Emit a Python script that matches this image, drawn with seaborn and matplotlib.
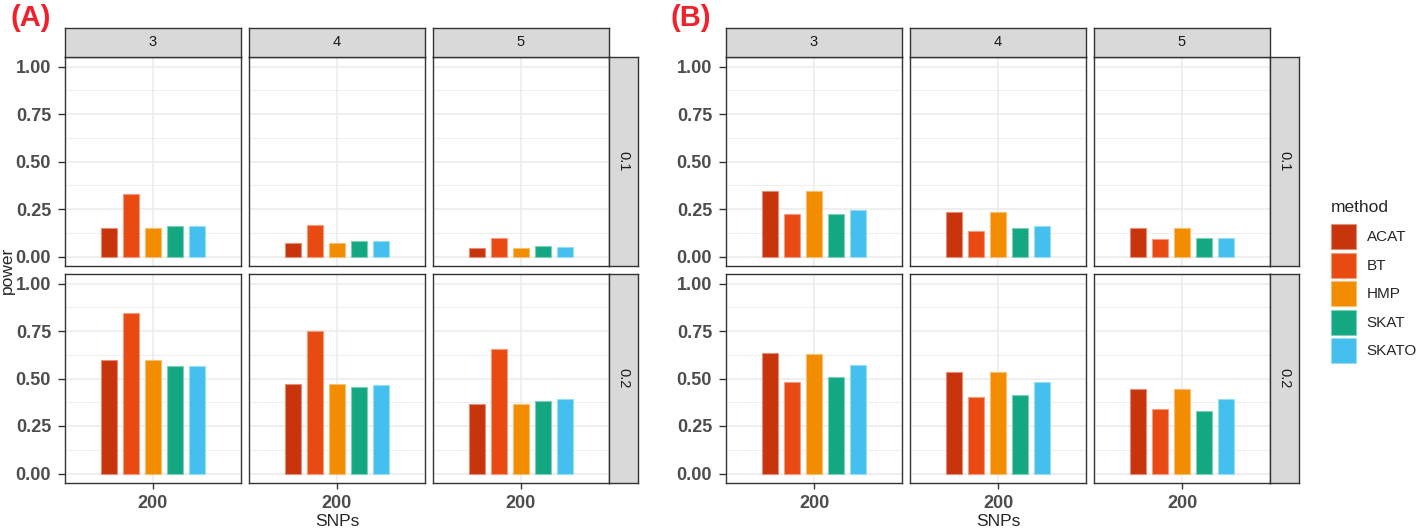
import numpy as np
import pandas as pd
import matplotlib.pyplot as plt
import seaborn as sns
from matplotlib.patches import Patch
from matplotlib.ticker import MultipleLocator, FormatStrFormatter
from matplotlib.colors import to_rgb

# data
methods = ['ACAT', 'BT', 'HMP', 'SKAT', 'SKATO']
colors = ['#C8340C', '#E84A12', '#F28C00', '#13A882', '#45BFEE']
col_groups = ['3', '4', '5']
row_groups = ['0.1', '0.2']
snps = '200'

# one inner list per column (3, 4, 5), values in method order
powerA_01 = [[0.148, 0.330, 0.148, 0.158, 0.158],
             [0.073, 0.167, 0.073, 0.083, 0.083],
             [0.047, 0.100, 0.047, 0.057, 0.052]]
powerA_02 = [[0.600, 0.843, 0.600, 0.565, 0.565],
             [0.469, 0.751, 0.469, 0.455, 0.465],
             [0.364, 0.657, 0.364, 0.380, 0.390]]
powerB_01 = [[0.347, 0.224, 0.347, 0.224, 0.244],
             [0.232, 0.133, 0.232, 0.150, 0.163],
             [0.148, 0.094, 0.148, 0.100, 0.100]]
powerB_02 = [[0.636, 0.480, 0.630, 0.508, 0.572],
             [0.533, 0.405, 0.535, 0.415, 0.483],
             [0.443, 0.342, 0.443, 0.330, 0.394]]

rows = []
for panel, r01, r02 in [('A', powerA_01, powerA_02), ('B', powerB_01, powerB_02)]:
    for eff, vals in zip(row_groups, [r01, r02]):
        for g, v in zip(col_groups, vals):
            for m, p in zip(methods, v):
                rows.append(dict(panel=panel, effect=eff, group=g, method=m, SNPs=snps, power=p))
df = pd.DataFrame(rows)

sns.set_style('white')
plt.rcParams['font.family'] = ['Liberation Sans', 'DejaVu Sans']

W, H = 1416, 532
fig = plt.figure(figsize=(W / 100, H / 100), dpi=100)


def px_axes(x0, y0, x1, y1):
    return fig.add_axes([x0 / W, 1 - y1 / H, (x1 - x0) / W, (y1 - y0) / H])


def lighten(c, f=0.45):
    r, g, b = to_rgb(c)
    return (r + (1 - r) * f, g + (1 - g) * f, b + (1 - b) * f)


def strip(x0, y0, x1, y1, text, rot):
    sa = px_axes(x0, y0, x1, y1)
    sa.set_facecolor('#D9D9D9')
    sa.set_xticks([])
    sa.set_yticks([])
    for s in sa.spines.values():
        s.set_color('#333333')
        s.set_linewidth(1.0)
    sa.text(0.5, 0.5, text, ha='center', va='center', rotation=rot,
            fontsize=10.5, color='#1A1A1A', transform=sa.transAxes)


panel_w, gap = 176, 8
row_y = [(57, 266), (274, 483)]
left_x = {'A': 65, 'B': 726}

for panel in ['A', 'B']:
    for ri, eff in enumerate(row_groups):
        for ci, g in enumerate(col_groups):
            x0 = left_x[panel] + ci * (panel_w + gap)
            y0, y1 = row_y[ri]
            ax = px_axes(x0, y0, x0 + panel_w, y1)
            sub = df[(df.panel == panel) & (df.effect == eff) & (df.group == g)]
            sns.barplot(data=sub, x='SNPs', y='power', hue='method', hue_order=methods,
                        palette=colors, saturation=1, width=0.75, gap=0.3,
                        errorbar=None, legend=False, ax=ax)
            for p in ax.patches:
                p.set_edgecolor(lighten(p.get_facecolor()))
                p.set_linewidth(0.8)
            ax.set_xlim(-0.6, 0.6)
            ax.set_ylim(-0.05, 1.05)
            ax.yaxis.set_major_locator(MultipleLocator(0.25))
            ax.yaxis.set_minor_locator(MultipleLocator(0.125))
            ax.yaxis.set_major_formatter(FormatStrFormatter('%.2f'))
            ax.set_axisbelow(True)
            ax.grid(which='major', color='#EBEBEB', lw=1.1)
            ax.grid(which='minor', axis='y', color='#EBEBEB', lw=0.6)
            for s in ax.spines.values():
                s.set_color('#333333')
                s.set_linewidth(1.0)
            ax.set_xlabel('')
            ax.set_ylabel('')
            show_y = ci == 0
            show_x = ri == 1
            ax.tick_params(axis='y', which='major', left=show_y, labelleft=show_y,
                           length=5, width=1, color='#333333', pad=5,
                           labelsize=13, labelcolor='#4D4D4D')
            ax.tick_params(axis='x', which='major', bottom=show_x, labelbottom=show_x,
                           length=4.5, width=1, color='#333333', pad=4,
                           labelsize=13, labelcolor='#4D4D4D')
            ax.tick_params(which='minor', length=0)
            for lab in ax.get_xticklabels() + ax.get_yticklabels():
                lab.set_fontweight('bold')
            if ri == 0:
                strip(x0, 28, x0 + panel_w, 57, g, 0)
        xr = left_x[panel] + 3 * panel_w + 2 * gap
        strip(xr, row_y[ri][0], xr + 29, row_y[ri][1], eff, -90)

    center = left_x[panel] + (3 * panel_w + 2 * gap) / 2
    fig.text(center / W, 1 - 522 / H, 'SNPs', ha='center', va='center', fontsize=12.5)

fig.text(7 / W, 1 - 270 / H, 'power', ha='center', va='center', rotation=90, fontsize=12.5)
fig.text(10 / W, 1 - 4 / H, '(A)', ha='left', va='top', fontsize=21,
         fontweight='bold', color='#F2202A')
fig.text(671 / W, 1 - 4 / H, '(B)', ha='left', va='top', fontsize=21,
         fontweight='bold', color='#F2202A')

# legend: title as separate text so it lines up with the keys
fig.text(1331 / W, 1 - 208 / H, 'method', ha='left', va='center', fontsize=12.5)
handles = [Patch(facecolor=c, edgecolor=lighten(c), linewidth=0.8) for c in colors]
fig.legend(handles=handles, labels=methods, loc='upper left',
           bbox_to_anchor=(1331 / W, 1 - 224 / H), frameon=False, fontsize=11,
           handlelength=1.64, handleheight=2.14, labelspacing=0.23,
           handletextpad=0.7, borderpad=0, borderaxespad=0)

fig.savefig('out.png', dpi=100)
